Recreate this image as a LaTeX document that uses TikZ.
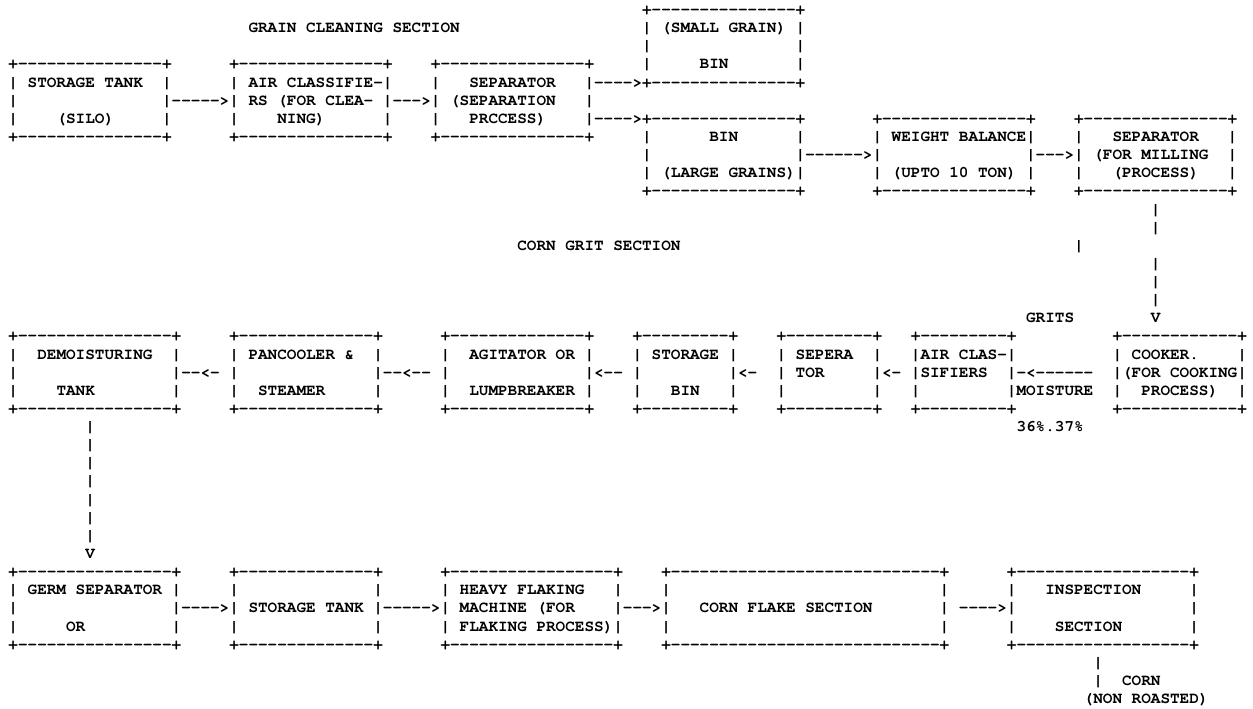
\documentclass[tikz,border=0pt]{standalone}
\usepackage{fontspec}
\setmonofont{texgyrecursor}[Extension=.otf, UprightFont=*-regular, BoldFont=*-bold]
\frenchspacing
\tikzset{
  txt/.style={anchor=base west, inner sep=0pt, outer sep=0pt, text=black,
    font=\ttfamily\bfseries\fontsize{16}{18}\selectfont}
}
\newcommand\seg[3]{\node[txt] (r#1c#2) at ({8.5+9.6*#2},{-(14.6+18.13*#1)}) {#3};}
\begin{document}
\begin{tikzpicture}[x=1pt,y=1pt]
\fill[white] (0,0) rectangle (1253,-709);
\useasboundingbox (0,0) rectangle (1253,-709);
% row 0
\seg{0}{66}{+---------------+}
% row 1
\seg{1}{25}{GRAIN CLEANING SECTION}
\seg{1}{66}{| (SMALL GRAIN) |}
% row 2
\seg{2}{66}{|}\seg{2}{82}{|}
% row 3
\seg{3}{0}{+---------------+}
\seg{3}{23}{+---------------+}
\seg{3}{44}{+---------------+}
\seg{3}{66}{|}\seg{3}{72}{BIN}\seg{3}{82}{|}
% row 4
\seg{4}{0}{| STORAGE TANK}\seg{4}{16}{|}
\seg{4}{23}{| AIR CLASSIFIE-|}
\seg{4}{44}{|}\seg{4}{48}{SEPARATOR}
\seg{4}{60}{|---->+---------------+}
% row 5
\seg{5}{0}{|}
\seg{5}{16}{|----->| RS (FOR CLEA- |--->| (SEPARATION}
\seg{5}{60}{|}
% row 6
\seg{6}{0}{|}\seg{6}{5}{(SILO)}\seg{6}{16}{|}
\seg{6}{23}{|}\seg{6}{28}{NING)}\seg{6}{39}{|}
\seg{6}{44}{|}\seg{6}{48}{PRCCESS)}
\seg{6}{60}{|---->+---------------+}
\seg{6}{90}{+---------------+}
\seg{6}{111}{+---------------+}
% row 7
\seg{7}{0}{+---------------+}
\seg{7}{23}{+---------------+}
\seg{7}{44}{+---------------+}
\seg{7}{66}{|}\seg{7}{73}{BIN}\seg{7}{82}{|}
\seg{7}{90}{| WEIGHT BALANCE|}
\seg{7}{111}{|}\seg{7}{115}{SEPARATOR}\seg{7}{127}{|}
% row 8
\seg{8}{66}{|}
\seg{8}{82}{|------>|}
\seg{8}{106}{|--->| (FOR MILLING}
\seg{8}{127}{|}
% row 9
\seg{9}{66}{| (LARGE GRAINS)|}
\seg{9}{90}{| (UPTO 10 TON) |}
\seg{9}{111}{|}\seg{9}{115}{(PROCESS)}\seg{9}{127}{|}
% row 10
\seg{10}{66}{+---------------+}
\seg{10}{90}{+---------------+}
\seg{10}{111}{+---------------+}
% rows 11-17
\seg{11}{119}{|}
\seg{12}{119}{|}
\seg{13}{53}{CORN GRIT SECTION}
\seg{13}{111}{|}
\seg{14}{119}{|}
\seg{15}{119}{|}
\seg{16}{119}{|}
\seg{17}{106}{GRITS}
\seg{17}{119}{V}
% row 18
\seg{18}{0}{+----------------+}
\seg{18}{23}{+--------------+}
\seg{18}{45}{+--------------+}
\seg{18}{65}{+---------+}
\seg{18}{80}{+---------+}
\seg{18}{94}{+---------+}
\seg{18}{115}{+------------+}
% row 19
\seg{19}{0}{|}\seg{19}{3}{DEMOISTURING}\seg{19}{17}{|}
\seg{19}{23}{| PANCOOLER \&}\seg{19}{38}{|}
\seg{19}{45}{|}\seg{19}{48}{AGITATOR OR |}
\seg{19}{65}{| STORAGE |}
\seg{19}{80}{| SEPERA}\seg{19}{90}{|}
\seg{19}{94}{|AIR CLAS-|}
\seg{19}{115}{| COOKER.}\seg{19}{128}{|}
% row 20
\seg{20}{0}{|}
\seg{20}{17}{|--<- |}
\seg{20}{38}{|--<-- |}
\seg{20}{60}{|<-- |}
\seg{20}{75}{|<-}
\seg{20}{80}{| TOR}
\seg{20}{90}{|<- |SIFIERS}
\seg{20}{104}{|-<------}
\seg{20}{115}{|(FOR COOKING|}
% row 21
\seg{21}{0}{|}\seg{21}{5}{TANK}\seg{21}{17}{|}
\seg{21}{23}{|}\seg{21}{26}{STEAMER}\seg{21}{38}{|}
\seg{21}{45}{|}\seg{21}{48}{LUMPBREAKER |}
\seg{21}{65}{|}\seg{21}{69}{BIN}\seg{21}{75}{|}
\seg{21}{80}{|}\seg{21}{90}{|}
\seg{21}{94}{|}\seg{21}{104}{|MOISTURE}
\seg{21}{115}{|}\seg{21}{118}{PROCESS)}\seg{21}{128}{|}
% row 22
\seg{22}{0}{+----------------+}
\seg{22}{23}{+--------------+}
\seg{22}{45}{+--------------+}
\seg{22}{65}{+---------+}
\seg{22}{80}{+---------+}
\seg{22}{94}{+---------+}
\seg{22}{115}{+------------+}
% rows 23-30
\seg{23}{8}{|}\seg{23}{105}{36\%.37\%}
\seg{24}{8}{|}
\seg{25}{8}{|}
\seg{26}{8}{|}
\seg{27}{8}{|}
\seg{28}{8}{|}
\seg{29}{8}{|}
\seg{30}{8}{V}
% row 31
\seg{31}{0}{+----------------+}
\seg{31}{23}{+--------------+}
\seg{31}{45}{+-----------------+}
\seg{31}{68}{+----------------------------+}
\seg{31}{104}{+------------------+}
% row 32
\seg{32}{0}{| GERM SEPARATOR |}
\seg{32}{23}{|}\seg{32}{38}{|}
\seg{32}{45}{| HEAVY FLAKING}\seg{32}{63}{|}
\seg{32}{68}{|}\seg{32}{97}{|}
\seg{32}{104}{|}\seg{32}{108}{INSPECTION}\seg{32}{123}{|}
% row 33
\seg{33}{0}{|}
\seg{33}{17}{|---->| STORAGE TANK |----->| MACHINE (FOR}
\seg{33}{63}{|--->|}
\seg{33}{72}{CORN FLAKE SECTION}
\seg{33}{97}{| ---->|}
\seg{33}{123}{|}
% row 34
\seg{34}{0}{|}\seg{34}{6}{OR}\seg{34}{17}{|}
\seg{34}{23}{|}\seg{34}{38}{|}
\seg{34}{45}{| FLAKING PROCESS)|}
\seg{34}{68}{|}\seg{34}{97}{|}
\seg{34}{104}{|}\seg{34}{109}{SECTION}\seg{34}{123}{|}
% row 35
\seg{35}{0}{+----------------+}
\seg{35}{23}{+--------------+}
\seg{35}{45}{+-----------------+}
\seg{35}{68}{+----------------------------+}
\seg{35}{104}{+------------------+}
% rows 36-38
\seg{36}{113}{|}
\seg{37}{113}{|}\seg{37}{116}{CORN}
\seg{38}{112}{(NON ROASTED)}
\end{tikzpicture}
\end{document}
